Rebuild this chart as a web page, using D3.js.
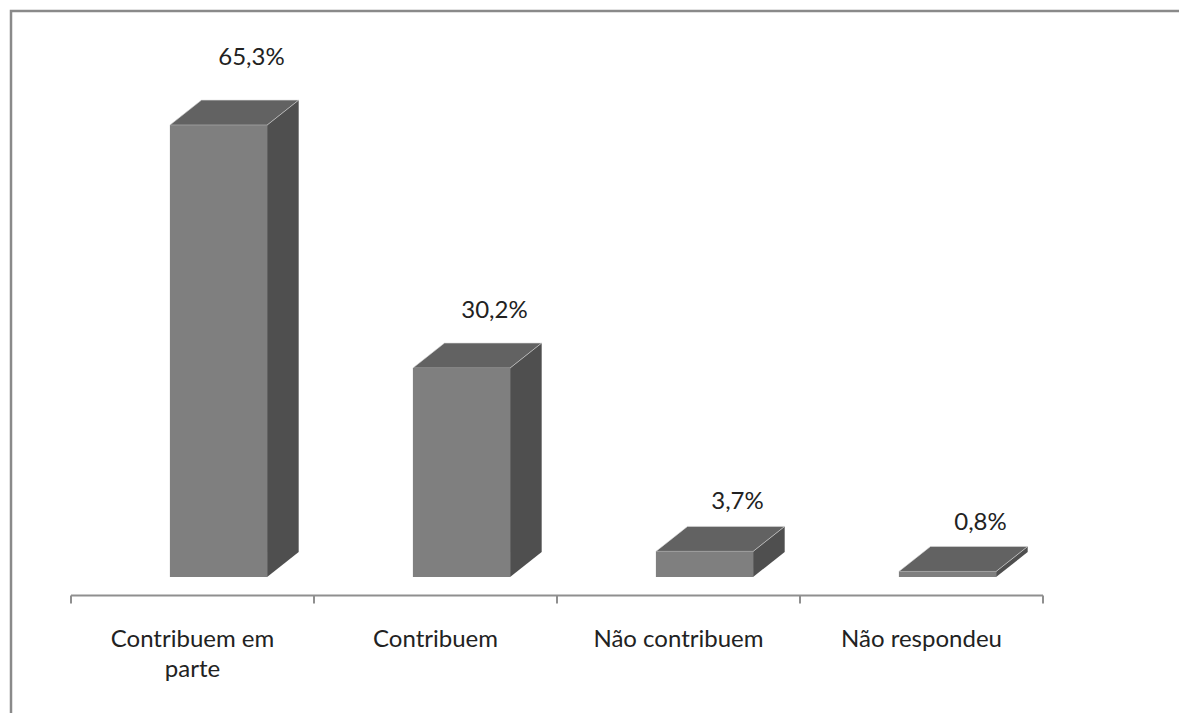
<!DOCTYPE html>
<html><head><meta charset="utf-8">
<script src="https://cdn.jsdelivr.net/npm/d3@7"></script>
<style>html,body{margin:0;padding:0;background:#fff;}svg{display:block;}</style>
</head><body>
<script>
const categories = ["Contribuem em parte", "Contribuem", "Não contribuem", "Não respondeu"];
const values = [65.3, 30.2, 3.7, 0.8];
const valueLabels = ["65,3%", "30,2%", "3,7%", "0,8%"];

const W = 1179, H = 713;
const FONT = "Lato, 'Open Sans', sans-serif";
const FS = 24;
const svg = d3.select("body").append("svg").attr("width", W).attr("height", H);

// outer frame
svg.append("path").attr("d", `M11,${H} L11,11 L${W},11`)
  .attr("fill", "none").attr("stroke", "#8a8a8a").attr("stroke-width", 2.5);

const x = d3.scaleBand().domain(categories).range([71, 1043]).paddingInner(0).paddingOuter(0);
const y = d3.scaleLinear().domain([0, 70]).range([577, 577 - 70 * 6.92]);
const bw = x.bandwidth();
const frontW = bw * 0.4;
const frontOff = bw * 0.407;
const dx = bw * 0.13, dy = -25;

const g = svg.append("g");
const bars = g.selectAll("g.bar").data(values).enter().append("g").attr("class", "bar");
bars.each(function(v, i) {
  const sel = d3.select(this);
  const x0 = x(categories[i]) + frontOff, x1 = x0 + frontW;
  const yt = y(v), yb = y(0);
  sel.append("path").attr("d", `M${x1},${yt} L${x1+dx},${yt+dy} L${x1+dx},${yb+dy} L${x1},${yb} Z`)
    .attr("fill", "#4f4f4f");
  sel.append("path").attr("d", `M${x0},${yt} L${x0+dx},${yt+dy} L${x1+dx},${yt+dy} L${x1},${yt} Z`)
    .attr("fill", "#626262").attr("stroke", "#d8d8d8").attr("stroke-width", 0.6);
  sel.append("rect").attr("x", x0).attr("y", yt).attr("width", frontW).attr("height", yb - yt)
    .attr("fill", "#7f7f7f");
  const h = yb - yt;
  sel.append("text").attr("x", x0 + frontW / 2 + 33).attr("y", yt - (41 + 0.042 * h))
    .attr("text-anchor", "middle").attr("font-family", FONT).attr("font-size", FS)
    .attr("fill", "#222").text(valueLabels[i]);
});

// axis
const axisY = 595.5;
const ag = svg.append("g").attr("stroke", "#8f8f8f").attr("stroke-width", 2);
ag.append("line").attr("x1", x.range()[0]).attr("x2", x.range()[1]).attr("y1", axisY).attr("y2", axisY);
const tickXs = categories.map(c => x(c)).concat([x.range()[1]]);
ag.selectAll("line.tick").data(tickXs).enter().append("line").attr("class", "tick")
  .attr("x1", d => d).attr("x2", d => d).attr("y1", axisY).attr("y2", axisY + 8);

// category labels with wrapping
const measure = svg.append("text").attr("font-family", FONT).attr("font-size", FS).attr("visibility", "hidden");
function textW(s) { measure.text(s); return measure.node().getComputedTextLength(); }
const maxW = 200;
categories.forEach(c => {
  const words = c.split(" ");
  const lines = [];
  let cur = "";
  words.forEach(w => {
    const t = cur ? cur + " " + w : w;
    if (textW(t) > maxW && cur) { lines.push(cur); cur = w; } else cur = t;
  });
  lines.push(cur);
  const t = svg.append("text").attr("font-family", FONT).attr("font-size", FS).attr("fill", "#222")
    .attr("text-anchor", "middle");
  lines.forEach((ln, k) => {
    t.append("tspan").attr("x", x(c) + bw / 2).attr("y", 647 + k * 30).text(ln);
  });
});
measure.remove();
</script>
</body></html>
